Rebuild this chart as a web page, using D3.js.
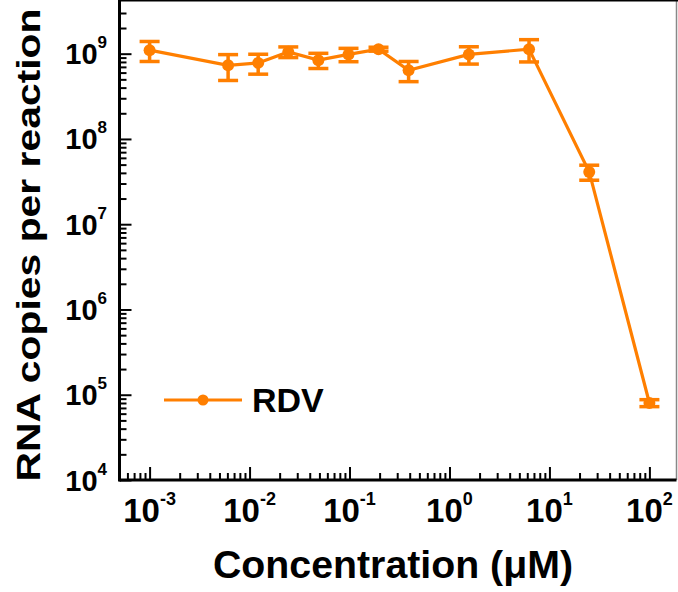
<!DOCTYPE html>
<html>
<head>
<meta charset="utf-8">
<script src="https://cdn.jsdelivr.net/npm/d3@7"></script>
<style>
  body { margin: 0; background: #fff; }
  svg { display: block; }
  text { font-family: "Liberation Sans", Arial, sans-serif; font-weight: bold; fill: #000; }
</style>
</head>
<body>
<div id="canvas"></div>
<script>
// concentrations (uM)
var concentrations = [0.001, 0.0061, 0.0122, 0.0244, 0.0488, 0.0977, 0.195, 0.39, 1.5625, 6.25, 25, 100];
// RNA copies per reaction, mean and sd
var copiesMean = [1.10e9, 7.3e8, 7.8e8, 1.05e9, 8.4e8, 9.8e8, 1.13e9, 6.4e8, 9.8e8, 1.13e9, 4.1e7, 8.0e4];
var copiesSd = [2.9e8, 2.45e8, 2.05e8, 1.5e8, 1.7e8, 1.75e8, 0.6e8, 1.7e8, 2.25e8, 3.3e8, 0.82e7, 0.75e4];
var seriesName = "RDV";
var xTickExps = [-3, -2, -1, 0, 1, 2];
var yTickExps = [4, 5, 6, 7, 8, 9];

var width = 678, height = 592;
var orange = "#ff7f00";

var svg = d3.select("#canvas").append("svg")
  .attr("width", width)
  .attr("height", height);

// log scales
var x = d3.scaleLog().domain([5e-4, 200]).range([119.5, 679.5]);
var y = d3.scaleLog().domain([1e4, 3e9]).range([480, 13]);

var left = x.range()[0], right = 676.5, top = y.range()[1], bottom = y.range()[0];

// minor tick values (2..9 per decade)
function minorTicks(scale, e0, e1) {
  var out = [];
  var dom = scale.domain();
  for (var e = e0; e <= e1; e++) {
    for (var m = 2; m <= 9; m++) {
      var v = m * Math.pow(10, e);
      if (v >= dom[0] * 0.999 && v <= dom[1] * 1.001) out.push(v);
    }
  }
  return out;
}

// y axis ticks (inward)
var yMajor = yTickExps.map(function(e) { return Math.pow(10, e); });
svg.append("g")
  .attr("transform", "translate(" + left + ",0)")
  .call(d3.axisRight(y).tickValues(yMajor).tickSize(12).tickFormat(""))
  .call(function(g) { g.select(".domain").remove(); })
  .selectAll("line").attr("stroke", "#000").attr("stroke-width", 2);
svg.append("g")
  .attr("transform", "translate(" + left + ",0)")
  .call(d3.axisRight(y).tickValues(minorTicks(y, 4, 9)).tickSize(7).tickFormat(""))
  .call(function(g) { g.select(".domain").remove(); })
  .selectAll("line").attr("stroke", "#000").attr("stroke-width", 2);

// x axis ticks (inward)
var xMajor = xTickExps.map(function(e) { return Math.pow(10, e); });
svg.append("g")
  .attr("transform", "translate(0," + bottom + ")")
  .call(d3.axisTop(x).tickValues(xMajor).tickSize(13).tickFormat(""))
  .call(function(g) { g.select(".domain").remove(); })
  .selectAll("line").attr("stroke", "#000").attr("stroke-width", 2);
svg.append("g")
  .attr("transform", "translate(0," + bottom + ")")
  .call(d3.axisTop(x).tickValues(minorTicks(x, -4, 2)).tickSize(7).tickFormat(""))
  .call(function(g) { g.select(".domain").remove(); })
  .selectAll("line").attr("stroke", "#000").attr("stroke-width", 2);

// frame
svg.append("line").attr("x1", right).attr("x2", right).attr("y1", top).attr("y2", bottom)
  .attr("stroke", "#888").attr("stroke-width", 1.5);
svg.append("line").attr("x1", left).attr("x2", width).attr("y1", top).attr("y2", top)
  .attr("stroke", "#000").attr("stroke-width", 3);
svg.append("line").attr("x1", left).attr("x2", left).attr("y1", top - 1.5).attr("y2", bottom + 1.5)
  .attr("stroke", "#000").attr("stroke-width", 3);
svg.append("line").attr("x1", left).attr("x2", right).attr("y1", bottom).attr("y2", bottom)
  .attr("stroke", "#000").attr("stroke-width", 3);

// y tick labels
var yLab = svg.append("g").selectAll("text")
  .data(yTickExps)
  .enter().append("text")
  .attr("x", 107)
  .attr("y", function(d) { return y(Math.pow(10, d)) + 10.5; })
  .attr("text-anchor", "end")
  .style("font-size", "29px");
yLab.append("tspan").text("10");
yLab.append("tspan").attr("dy", -16).style("font-size", "17px").text(function(d) { return d; });

// x tick labels
var xLab = svg.append("g").selectAll("text")
  .data(xTickExps)
  .enter().append("text")
  .attr("x", function(d) { return x(Math.pow(10, d)); })
  .attr("y", 522)
  .attr("text-anchor", "middle")
  .style("font-size", "33px");
xLab.append("tspan").text("10");
xLab.append("tspan").attr("dy", -17).style("font-size", "18px").text(function(d) { return d; });

// axis titles
svg.append("text")
  .attr("x", 393)
  .attr("y", 578)
  .attr("text-anchor", "middle")
  .attr("textLength", 360)
  .attr("lengthAdjust", "spacingAndGlyphs")
  .style("font-size", "38px")
  .text("Concentration (\u03bcM)");

svg.append("text")
  .attr("transform", "translate(40,245) rotate(-90)")
  .attr("text-anchor", "middle")
  .attr("textLength", 473)
  .attr("lengthAdjust", "spacingAndGlyphs")
  .style("font-size", "34px")
  .text("RNA copies per reaction");

// data
var data = concentrations.map(function(c, i) {
  return { c: c, m: copiesMean[i], sd: copiesSd[i] };
});

var line = d3.line()
  .x(function(d) { return x(d.c); })
  .y(function(d) { return y(d.m); });

svg.append("path")
  .datum(data)
  .attr("d", line)
  .attr("fill", "none")
  .attr("stroke", orange)
  .attr("stroke-width", 3.2);

// error bars
var eb = svg.append("g").selectAll("g")
  .data(data)
  .enter().append("g")
  .attr("stroke", orange)
  .attr("stroke-width", 3.5);
eb.append("line")
  .attr("x1", function(d) { return x(d.c); })
  .attr("x2", function(d) { return x(d.c); })
  .attr("y1", function(d) { return y(d.m + d.sd); })
  .attr("y2", function(d) { return y(d.m - d.sd); });
eb.append("line")
  .attr("x1", function(d) { return x(d.c) - 10; })
  .attr("x2", function(d) { return x(d.c) + 10; })
  .attr("y1", function(d) { return y(d.m + d.sd); })
  .attr("y2", function(d) { return y(d.m + d.sd); });
eb.append("line")
  .attr("x1", function(d) { return x(d.c) - 10; })
  .attr("x2", function(d) { return x(d.c) + 10; })
  .attr("y1", function(d) { return y(d.m - d.sd); })
  .attr("y2", function(d) { return y(d.m - d.sd); });

svg.append("g").selectAll("circle")
  .data(data)
  .enter().append("circle")
  .attr("cx", function(d) { return x(d.c); })
  .attr("cy", function(d) { return y(d.m); })
  .attr("r", 6)
  .attr("fill", orange);

// legend
var lg = svg.append("g");
lg.append("line").attr("x1", 164).attr("x2", 242).attr("y1", 400).attr("y2", 400)
  .attr("stroke", orange).attr("stroke-width", 3);
lg.append("circle").attr("cx", 203).attr("cy", 400).attr("r", 5.5).attr("fill", orange);
lg.append("text").attr("x", 252).attr("y", 412).style("font-size", "34px").text(seriesName);
</script>
</body>
</html>
